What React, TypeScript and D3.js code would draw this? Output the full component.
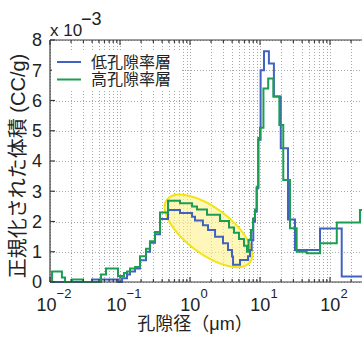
import React from 'react';
import * as d3 from 'd3';

// ---- data (pore diameter in μm, normalized volume in 1e-3 CC/g) ----
const lowLabel = '低孔隙率層';
const highLabel = '高孔隙率層';

const lowEdges = [0.01, 0.0398, 0.0936, 0.107, 0.126, 0.139, 0.164, 0.193, 0.235, 0.268, 0.316, 0.373, 0.485, 0.72, 1.07, 1.18, 1.53, 1.81, 2.28, 2.96, 3.49, 3.98, 4.12, 5.18, 6.74, 7.2, 7.61, 8.02, 8.48, 8.97, 9.46, 10.2, 11.4, 13.4, 15.8, 19.8, 25.1, 31.6, 72.0, 147, 1000];
const lowValues = [0, 0.08, 0, 0.12, 0.25, 0.35, 0.45, 0.72, 1.0, 1.3, 1.58, 2.08, 2.38, 2.28, 2.16, 2.03, 1.88, 1.72, 1.5, 1.28, 1.06, 0.84, 0.57, 0.73, 0.85, 1.06, 1.39, 1.99, 2.32, 3.1, 4.7, 7.0, 7.63, 7.22, 6.13, 4.42, 2.07, 1.06, 1.77, 0.18];

const highEdges = [0.01, 0.0107, 0.0148, 0.0164, 0.0206, 0.0296, 0.0536, 0.0631, 0.0936, 0.114, 0.126, 0.139, 0.164, 0.193, 0.235, 0.268, 0.316, 0.373, 0.485, 0.72, 1.07, 1.26, 1.75, 2.68, 3.61, 4.25, 5.01, 5.91, 6.52, 6.85, 7.44, 7.94, 8.48, 8.97, 9.46, 10.0, 11.2, 13.1, 15.5, 18.9, 21.5, 26.8, 33.4, 46.5, 72.0, 125, 268, 1000];
const highValues = [0, 0.35, 0.15, 0, 0.08, 0, 0.25, 0.45, 0.2, 0.3, 0.35, 0.45, 0.5, 0.85, 1.1, 1.35, 1.65, 2.3, 2.69, 2.6, 2.5, 2.4, 2.22, 2.02, 1.8, 1.63, 1.42, 1.2, 1.0, 1.39, 1.72, 2.1, 2.4, 3.15, 4.76, 5.1, 6.4, 6.73, 6.13, 5.19, 3.37, 1.78, 1.0, 0.95, 1.28, 1.97, 2.38];

const yTicks = [0, 1, 2, 3, 4, 5, 6, 7, 8];
const xDecades = [0.01, 0.1, 1, 10, 100, 1000];
const xExponents = ['−2', '−1', '0', '1', '2', '3'];
const highlightCenter = { x: 1.84, y: 1.69 };

const FONT = "'Liberation Sans', Arial, 'Noto Sans CJK JP', sans-serif";
const BLUE = '#4262c2';
const GREEN = '#1c9e52';
const VIEW_W = 362;

const x = d3.scaleLog().domain([0.01, 1000]).range([50, 400]);
const y = d3.scaleLinear().domain([0, 8]).range([282, 40]);

function stepPath(edges: number[], values: number[]) {
  const pts: [number, number][] = values.map((v, i) => [edges[i], v]);
  pts.push([edges[edges.length - 1], values[values.length - 1]]);
  return d3
    .line<[number, number]>()
    .x((d) => x(d[0]))
    .y((d) => y(d[1]))
    .curve(d3.curveStepAfter)(pts) as string;
}

export default function App() {
  const [x0, x1] = x.range();
  const [yb, yt] = y.range();
  const minor: number[] = [];
  xDecades.slice(0, -1).forEach((d) => {
    for (let k = 1; k <= 9; k++) minor.push(d * k);
  });
  minor.push(1000);
  const cx = x(highlightCenter.x);
  const cy = y(highlightCenter.y);
  return (
    <svg
      width={362}
      height={338}
      style={{ position: 'fixed', left: 0, top: 0, background: '#fff' }}
      fontFamily={FONT}
    >
      <defs>
        <clipPath id="plot">
          <rect x={x0} y={yt - 2} width={x1 - x0} height={yb - yt + 4} />
        </clipPath>
      </defs>
      <rect x={0} y={0} width={362} height={338} fill="#fff" />
      {/* grid */}
      <g stroke="#a8a8a8" strokeWidth={1} strokeDasharray="1 2">
        {minor.map((m, i) => (
          <line key={'gx' + i} x1={Math.round(x(m)) + 0.5} x2={Math.round(x(m)) + 0.5} y1={yt} y2={yb} />
        ))}
        {yTicks.map((t) => (
          <line key={'gy' + t} x1={x0} x2={x1} y1={Math.round(y(t)) + 0.5} y2={Math.round(y(t)) + 0.5} />
        ))}
      </g>
      {/* highlight ellipse */}
      <ellipse
        cx={cx}
        cy={cy}
        rx={52}
        ry={23}
        transform={`rotate(37 ${cx} ${cy})`}
        fill="#fdf28a"
        fillOpacity={0.6}
        stroke="#f2e415"
        strokeWidth={2}
      />
      {/* series */}
      <g clipPath="url(#plot)" fill="none" strokeWidth={2} strokeLinejoin="miter">
        <path d={stepPath(lowEdges, lowValues)} stroke={BLUE} />
        <path d={stepPath(highEdges, highValues)} stroke={GREEN} />
      </g>
      {/* axes */}
      <g stroke="#3c3c3c" strokeWidth={1.2} fill="none">
        <line x1={x0} x2={x0} y1={yt} y2={yb} />
        <line x1={x0} x2={x1} y1={yb} y2={yb} />
        <line x1={x0} x2={x1} y1={yt} y2={yt} />
        {minor.map((m, i) => {
          const major = xDecades.includes(m);
          const len = major ? 5 : 3;
          const px = x(m);
          return (
            <g key={'tx' + i}>
              <line x1={px} x2={px} y1={yb} y2={yb - len} />
              <line x1={px} x2={px} y1={yt} y2={yt + len} />
            </g>
          );
        })}
        {yTicks.map((t) => (
          <line key={'ty' + t} x1={x0} x2={x0 + 5} y1={y(t)} y2={y(t)} />
        ))}
      </g>
      {/* tick labels */}
      <g fill="#222" fontSize={18}>
        {yTicks.map((t) => (
          <text key={'ly' + t} x={42} y={y(t)} dy="0.36em" textAnchor="end">
            {t}
          </text>
        ))}
        {xDecades.map((d, i) =>
          x(d) + 20 < VIEW_W ? (
            <text key={'lx' + i} x={x(d) + 4} y={311} textAnchor="middle">
              10
              <tspan fontSize={13} dy={-13}>
                {xExponents[i]}
              </tspan>
            </text>
          ) : null
        )}
      </g>
      <text x={50} y={36} fontSize={17} fill="#222">
        x 10
      </text>
      <text x={81} y={25} fontSize={18} fill="#222">
        −3
      </text>
      {/* axis titles */}
      <text x={195} y={330} fontSize={18} fill="#222" textAnchor="middle">
        孔隙径（μm）
      </text>
      <text
        transform={`translate(25 ${166}) rotate(-90)`}
        fontSize={20}
        fill="#222"
        textAnchor="middle"
      >
        正規化された体積 (CC/g)
      </text>
      {/* legend */}
      <rect x={52} y={51} width={128} height={40} fill="#fff" />
      <line x1={57} x2={81} y1={62} y2={62} stroke={BLUE} strokeWidth={2} />
      <line x1={57} x2={81} y1={79.5} y2={79.5} stroke={GREEN} strokeWidth={2} />
      <text x={91} y={62} dy="0.36em" fontSize={16} fill="#222">
        {lowLabel}
      </text>
      <text x={91} y={79.5} dy="0.36em" fontSize={16} fill="#222">
        {highLabel}
      </text>
    </svg>
  );
}
